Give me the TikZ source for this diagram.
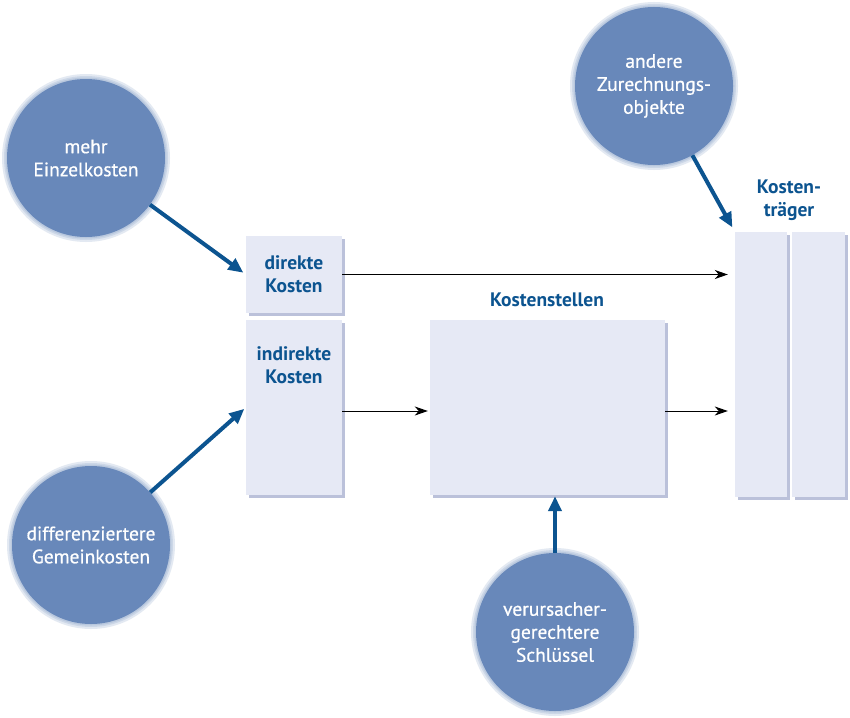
\documentclass[tikz,border=0pt]{standalone}
\usepackage{fontspec}
\setmainfont{PT Sans}
\newfontfamily\medfont[FakeBold=0.6]{PT Sans}
\usetikzlibrary{shadows,arrows.meta}
\definecolor{circ}{RGB}{104,136,186}
\definecolor{dblue}{RGB}{12,84,144}
\definecolor{boxf}{RGB}{230,233,245}
\definecolor{boxs}{RGB}{180,187,215}
\begin{document}
\begin{tikzpicture}[x=1pt,y=-1pt,
 bubble/.style={circle, fill=circ, minimum size=158pt, inner sep=0pt, text=white, align=center,
   font=\medfont\fontsize{19.5}{23}\selectfont},
 halo/.style={fill=circ, opacity=0.18},
 panel/.style={rectangle, fill=boxf, inner sep=0pt,
   drop shadow={shadow xshift=3pt, shadow yshift=-3pt, fill=boxs, opacity=0.9}},
 lbl/.style={text=dblue, align=center, font=\bfseries\fontsize{19.5}{23}\selectfont},
 bluearrow/.style={draw=dblue, line width=4pt, -{Triangle[length=15pt,width=13pt]}},
 blackarrow/.style={draw=black, line width=1pt, -{Stealth[length=13pt,width=9pt,inset=4pt]}}
]
\fill[white] (0,0) rectangle (850,717);
\useasboundingbox (0,0) rectangle (850,717);

% soft edges of the circles
\foreach \p in {(86,158),(654,86),(91,545),(555,632)}{
  \fill[halo] \p circle (84pt);
  \fill[halo] \p circle (82pt);
  \fill[halo] \p circle (80.5pt);
}

% boxes
\node[panel, minimum width=96pt, minimum height=77pt, lbl] (dk) at (294,274.5) {direkte\\Kosten};
\node[panel, minimum width=96pt, minimum height=175pt] (ik) at (294,407.5) {};
\node[lbl] (iktext) at (294,365) {indirekte\\Kosten};
\node[panel, minimum width=235pt, minimum height=175pt] (ks) at (547.5,407.5) {};
\node[lbl] (kslbl) at (547,300) {Kostenstellen};
\node[panel, minimum width=52pt, minimum height=265pt] (kt1) at (761,364.5) {};
\node[panel, minimum width=53pt, minimum height=265pt] (kt2) at (818.5,364.5) {};
\node[lbl] (ktlbl) at (789,200) {Kosten-\\träger};

% circles
\node[bubble] (c1) at (86,158) {mehr\\Einzelkosten};
\node[bubble] (c3) at (654,86) {andere\\Zurechnungs-\\objekte};
\node[bubble] (c2) at (91,545) {differenziertere\\Gemeinkosten};
\node[bubble] (c4) at (555,632) {verursacher-\\gerechtere\\Schlüssel};

% black arrows
\draw[blackarrow, shorten >=7pt] (dk.east) -- (dk.east -| kt1.west);
\draw[blackarrow, shorten >=2pt] (ik.east |- 0,411) coordinate (ikout) -- (ks.west |- ikout);
\draw[blackarrow, shorten >=7pt] (ks.east |- ikout) -- (kt1.west |- ikout);

% blue arrows
\draw[bluearrow, shorten >=3pt] (c1) -- (dk.west);
\draw[bluearrow, shorten >=2pt] (c2) -- (ik.west);
\draw[bluearrow, shorten >=5pt] (c3) -- (kt1.north west);
\draw[bluearrow, shorten >=1pt] (c4) -- (c4 |- ks.south);
\end{tikzpicture}
\end{document}
